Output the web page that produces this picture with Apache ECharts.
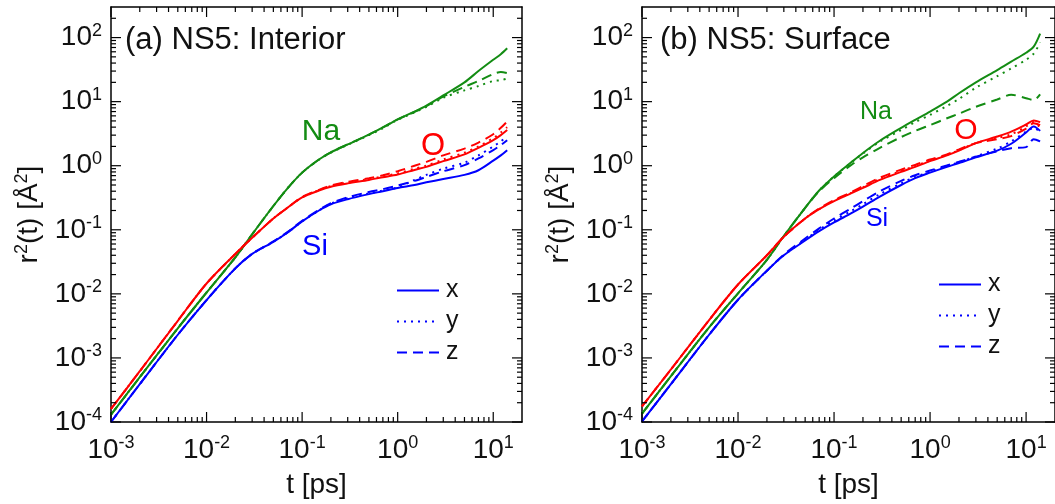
<!DOCTYPE html>
<html>
<head>
<meta charset="utf-8">
<script src="https://cdn.jsdelivr.net/npm/echarts@6/dist/echarts.min.js"></script>
<style>html,body{margin:0;padding:0;background:#fff}#c{width:1055px;height:504px}</style>
</head>
<body>
<div id="c"></div>
<script>
// time axis (ps)
const T = [0.001, 0.002, 0.005, 0.01, 0.02, 0.03, 0.05, 0.07, 0.1, 0.15, 0.2, 0.3, 0.5, 0.7, 1, 1.5, 2, 3, 5, 7, 10, 12, 14];

// (a) NS5: Interior
const naX_a = [1.3e-4, 5.0e-4, 2.9e-3, 0.0105, 0.037, 0.085, 0.235, 0.44, 0.78, 1.25, 1.62, 2.15, 3.05, 3.95, 5.3, 7.0, 8.7, 12.5, 20, 30, 45, 55, 68];
const naY_a = [1.3e-4, 5.0e-4, 2.9e-3, 0.0105, 0.037, 0.085, 0.235, 0.44, 0.78, 1.24, 1.6, 2.12, 3.0, 3.85, 5.2, 6.8, 8.3, 11.5, 15, 17.5, 21, 21.5, 23];
const naZ_a = [1.3e-4, 5.0e-4, 2.9e-3, 0.0105, 0.037, 0.085, 0.235, 0.44, 0.78, 1.25, 1.62, 2.15, 3.05, 3.95, 5.3, 6.9, 8.5, 12, 17, 21, 27, 29, 28];
const oX_a  = [1.6e-4, 6.2e-4, 3.8e-3, 0.0145, 0.042, 0.075, 0.15, 0.22, 0.32, 0.41, 0.47, 0.53, 0.60, 0.66, 0.73, 0.86, 0.96, 1.18, 1.5, 1.9, 2.5, 3.0, 3.6];
const oY_a  = [1.6e-4, 6.2e-4, 3.8e-3, 0.0145, 0.042, 0.075, 0.15, 0.22, 0.32, 0.415, 0.48, 0.545, 0.62, 0.68, 0.76, 0.9, 1.0, 1.25, 1.6, 2.0, 2.7, 3.3, 4.0];
const oZ_a  = [1.6e-4, 6.2e-4, 3.8e-3, 0.0145, 0.042, 0.075, 0.15, 0.22, 0.325, 0.42, 0.49, 0.56, 0.64, 0.71, 0.82, 1.0, 1.15, 1.45, 1.85, 2.3, 3.1, 3.9, 4.9];
const siX_a = [1.0e-4, 3.9e-4, 2.3e-3, 0.0080, 0.025, 0.042, 0.065, 0.09, 0.135, 0.2, 0.25, 0.30, 0.36, 0.40, 0.45, 0.50, 0.55, 0.62, 0.72, 0.85, 1.2, 1.45, 1.75];
const siY_a = [1.0e-4, 3.9e-4, 2.3e-3, 0.0080, 0.025, 0.042, 0.065, 0.09, 0.135, 0.2, 0.255, 0.31, 0.37, 0.41, 0.46, 0.60, 0.72, 0.90, 1.12, 1.45, 2.0, 2.4, 2.9];
const siZ_a = [1.0e-4, 3.9e-4, 2.3e-3, 0.0080, 0.025, 0.042, 0.066, 0.092, 0.138, 0.205, 0.26, 0.32, 0.39, 0.43, 0.49, 0.58, 0.67, 0.82, 1.02, 1.3, 1.75, 2.1, 2.5];

// (b) NS5: Surface
const naX_b = [1.35e-4, 5.2e-4, 3.0e-3, 0.0102, 0.034, 0.08, 0.22, 0.41, 0.68, 1.12, 1.58, 2.45, 3.9, 5.2, 7.0, 10, 13.5, 20, 31, 42, 58, 72, 115];
const naY_b = [1.35e-4, 5.2e-4, 3.0e-3, 0.0102, 0.034, 0.08, 0.22, 0.41, 0.68, 1.11, 1.55, 2.38, 3.6, 4.8, 6.2, 8.6, 11, 16.5, 25, 33, 45, 56, 84];
const naZ_b = [1.35e-4, 5.2e-4, 3.0e-3, 0.0102, 0.034, 0.08, 0.22, 0.40, 0.64, 1.02, 1.35, 1.9, 2.8, 3.5, 4.3, 5.5, 6.5, 8.3, 10.8, 12.8, 11.3, 10.6, 13];
const oX_b  = [1.75e-4, 6.6e-4, 3.9e-3, 0.014, 0.040, 0.078, 0.15, 0.21, 0.28, 0.37, 0.45, 0.6, 0.8, 0.96, 1.18, 1.45, 1.72, 2.25, 2.85, 3.4, 4.4, 5.1, 4.8];
const oY_b  = [1.75e-4, 6.6e-4, 3.9e-3, 0.014, 0.040, 0.078, 0.15, 0.21, 0.285, 0.375, 0.46, 0.62, 0.83, 0.99, 1.2, 1.47, 1.75, 2.25, 2.7, 3.1, 4.1, 4.8, 3.9];
const oZ_b  = [1.75e-4, 6.6e-4, 3.9e-3, 0.014, 0.040, 0.078, 0.15, 0.215, 0.29, 0.385, 0.48, 0.65, 0.87, 1.03, 1.25, 1.5, 1.8, 2.25, 2.6, 2.9, 3.8, 4.6, 4.3];
const siX_b = [1.02e-4, 3.9e-4, 2.3e-3, 0.0081, 0.023, 0.040, 0.068, 0.095, 0.13, 0.18, 0.23, 0.33, 0.50, 0.64, 0.78, 0.96, 1.1, 1.35, 1.72, 2.2, 3.3, 4.1, 3.5];
const siY_b = [1.02e-4, 3.9e-4, 2.3e-3, 0.0081, 0.023, 0.040, 0.070, 0.10, 0.14, 0.195, 0.25, 0.36, 0.53, 0.67, 0.80, 0.99, 1.13, 1.4, 1.85, 2.4, 3.4, 3.9, 3.3];
const siZ_b = [1.02e-4, 3.9e-4, 2.3e-3, 0.0081, 0.023, 0.041, 0.073, 0.105, 0.15, 0.215, 0.28, 0.40, 0.58, 0.71, 0.84, 1.01, 1.15, 1.38, 1.68, 1.88, 1.95, 2.6, 2.4];

// axis ranges / ticks / labels
const X_RANGE = [0.001, 20];
const Y_RANGE = [1e-4, 300];
const X_DECADES = [1e-3, 1e-2, 1e-1, 1, 10];
const Y_DECADES = [1e-4, 1e-3, 1e-2, 1e-1, 1, 10, 100];
const MINOR_MULT = [2, 3, 4, 5, 6, 7, 8, 9];
const X_TITLE = 't [ps]';
const Y_TITLE = 'r{s|2}(t) [Å{s|2}]';
const PANEL_TITLES = ['(a) NS5: Interior', '(b) NS5: Surface'];
const LEGEND_NAMES = ['x', 'y', 'z'];

const GREEN = '#138c13', RED = '#ff0000', BLUE = '#0000ff';
const FONT = '"Liberation Sans", Arial, Helvetica, sans-serif';
const DOT = [2, 5], DASH = [10, 6];
const MAJOR_LEN = 10, MINOR_LEN = 5;

function isDecade(v) {
  const e = Math.round(Math.log10(v));
  return Math.abs(v / Math.pow(10, e) - 1) < 1e-6;
}
function decadeLabel(v) {
  return '10{s|' + Math.round(Math.log10(v)) + '}';
}
function tickValues(decades, range) {
  const out = [];
  decades.forEach(d => {
    if (d >= range[0] && d <= range[1]) out.push(d);
    MINOR_MULT.forEach(m => { const v = d * m; if (v > range[0] && v < range[1] * 0.999) out.push(v); });
  });
  return out;
}
const richSup = { s: { fontSize: 18, lineHeight: 16, verticalAlign: 'top', fontFamily: FONT, color: '#111' } };

function xAx(gi, pos) {
  const bottom = pos === 'bottom';
  return {
    type: 'log', gridIndex: gi, position: pos, min: X_RANGE[0], max: X_RANGE[1],
    axisLine: { show: true, lineStyle: { color: '#000', width: 1.5 } },
    axisTick: { show: false }, minorTick: { show: false },
    splitLine: { show: false }, minorSplitLine: { show: false },
    axisLabel: { show: bottom, margin: 12, formatter: decadeLabel, fontSize: 28, lineHeight: 32, fontFamily: FONT, color: '#111', rich: richSup, showMinLabel: true, showMaxLabel: false },
    name: bottom ? X_TITLE : '', nameLocation: 'middle', nameGap: 49,
    nameTextStyle: { fontSize: 28, fontFamily: FONT, color: '#111' }
  };
}
function yAx(gi, pos) {
  const left = pos === 'left';
  return {
    type: 'log', gridIndex: gi, position: pos, min: Y_RANGE[0], max: Y_RANGE[1],
    axisLine: { show: true, lineStyle: { color: '#000', width: 1.5 } },
    axisTick: { show: false }, minorTick: { show: false },
    splitLine: { show: false }, minorSplitLine: { show: false },
    axisLabel: { show: left, margin: 9, formatter: decadeLabel, fontSize: 28, lineHeight: 32, fontFamily: FONT, color: '#111', rich: richSup, showMinLabel: true, showMaxLabel: false },
    name: left ? Y_TITLE : '', nameLocation: 'middle', nameRotate: 90, nameGap: 66,
    nameTextStyle: { fontSize: 28, lineHeight: 32, fontFamily: FONT, color: '#111', rich: { s: { fontSize: 18, lineHeight: 16, verticalAlign: 'top', fontFamily: FONT, color: '#111' } } }
  };
}

function mk(name, data, color, dash, xi, yi) {
  return {
    type: 'line', name: name, xAxisIndex: xi, yAxisIndex: yi,
    data: T.map((t, i) => [t, data[i]]),
    symbol: 'none', showSymbol: false, smooth: 0.3, silent: true,
    lineStyle: { color: color, width: 2, type: dash }, itemStyle: { color: color }
  };
}

// Si series carry the legend names x / y / z (legend shows blue samples, as in the original)
const series = [
  mk('Na-x a', naX_a, GREEN, 'solid', 0, 0), mk('Na-y a', naY_a, GREEN, DOT, 0, 0), mk('Na-z a', naZ_a, GREEN, DASH, 0, 0),
  mk('O-x a', oX_a, RED, 'solid', 0, 0), mk('O-y a', oY_a, RED, DOT, 0, 0), mk('O-z a', oZ_a, RED, DASH, 0, 0),
  mk('x', siX_a, BLUE, 'solid', 0, 0), mk('y', siY_a, BLUE, DOT, 0, 0), mk('z', siZ_a, BLUE, DASH, 0, 0),
  mk('Na-x b', naX_b, GREEN, 'solid', 2, 2), mk('Na-y b', naY_b, GREEN, DOT, 2, 2), mk('Na-z b', naZ_b, GREEN, DASH, 2, 2),
  mk('O-x b', oX_b, RED, 'solid', 2, 2), mk('O-y b', oY_b, RED, DOT, 2, 2), mk('O-z b', oZ_b, RED, DASH, 2, 2),
  mk('x', siX_b, BLUE, 'solid', 2, 2), mk('y', siY_b, BLUE, DOT, 2, 2), mk('z', siZ_b, BLUE, DASH, 2, 2)
];

function legend(left, top) {
  return { show: true, orient: 'vertical', left: left, top: top, itemWidth: 42, itemHeight: 14, itemGap: 6,
    selectedMode: false, data: LEGEND_NAMES, padding: 0,
    itemStyle: { opacity: 0 },
    textStyle: { fontSize: 25, lineHeight: 20, fontFamily: FONT, color: '#111', padding: [0, 0, 0, 2] } };
}

function txt(x, y, s, size, color) {
  return { type: 'text', x: x, y: y, silent: true,
    style: { text: s, font: size + 'px ' + FONT, fill: color, textAlign: 'center', textVerticalAlign: 'middle' } };
}
function ltxt(x, y, s, size) {
  return { type: 'text', x: x, y: y, silent: true,
    style: { text: s, font: size + 'px ' + FONT, fill: '#111', textAlign: 'left', textVerticalAlign: 'middle' } };
}

const labels = [
  ltxt(125, 40, PANEL_TITLES[0], 31), ltxt(660, 40, PANEL_TITLES[1], 31),
  txt(321, 132, 'Na', 30, GREEN), txt(433, 146, 'O', 31, RED), txt(315, 247, 'Si', 29, BLUE),
  txt(876, 112, 'Na', 25, GREEN), txt(966, 131, 'O', 30, RED), txt(877, 219, 'Si', 25, BLUE)
];

const option = {
  animation: false,
  grid: [
    { left: 111, top: 7, width: 411, height: 416 },
    { left: 642, top: 7, width: 413, height: 416 }
  ],
  xAxis: [xAx(0, 'bottom'), xAx(0, 'top'), xAx(1, 'bottom'), xAx(1, 'top')],
  yAxis: [yAx(0, 'left'), yAx(0, 'right'), yAx(1, 'left'), yAx(1, 'right')],
  legend: [legend(396, 278), legend(938, 272)],
  series: series,
  graphic: labels
};
const chart = echarts.init(document.getElementById('c'));
try { chart.setOption(option); } catch (e) { /* keep going so the ticks are still drawn */ }

// inward ticks on all four sides of each panel, positioned through the axes' own log scales
function toPx(gi, xv, yv) {
  let p = null;
  try { p = chart.convertToPixel({ gridIndex: gi }, [xv, yv]); } catch (e) { p = null; }
  if (!p || !isFinite(p[0]) || !isFinite(p[1])) {
    try {
      const m = chart.getModel();
      const xa = m.getComponent('xAxis', gi * 2).axis;
      const ya = m.getComponent('yAxis', gi * 2).axis;
      p = [xa.toGlobalCoord(xa.dataToCoord(xv)), ya.toGlobalCoord(ya.dataToCoord(yv))];
    } catch (e) { p = null; }
  }
  return (p && isFinite(p[0]) && isFinite(p[1])) ? p : null;
}
const zr = chart.getZr();
function addTick(x1, y1, x2, y2) {
  const el = new echarts.graphic.Line({
    shape: { x1: x1, y1: y1, x2: x2, y2: y2 },
    style: { stroke: '#000', lineWidth: 1.2 },
    silent: true, z: 100, zlevel: 0
  });
  zr.add(el);
}
[0, 1].forEach(gi => {
  tickValues(X_DECADES, X_RANGE).forEach(v => {
    const L = isDecade(v) ? MAJOR_LEN : MINOR_LEN;
    const b = toPx(gi, v, Y_RANGE[0]);
    const t = toPx(gi, v, Y_RANGE[1]);
    if (b) addTick(b[0], b[1], b[0], b[1] - L);
    if (t) addTick(t[0], t[1], t[0], t[1] + L);
  });
  tickValues(Y_DECADES, Y_RANGE).forEach(v => {
    const L = isDecade(v) ? MAJOR_LEN : MINOR_LEN;
    const l = toPx(gi, X_RANGE[0], v);
    const r = toPx(gi, X_RANGE[1], v);
    if (l) addTick(l[0], l[1], l[0] + L, l[1]);
    if (r) addTick(r[0], r[1], r[0] - L, r[1]);
  });
});
zr.refreshImmediately && zr.refreshImmediately();
</script>
</body>
</html>
